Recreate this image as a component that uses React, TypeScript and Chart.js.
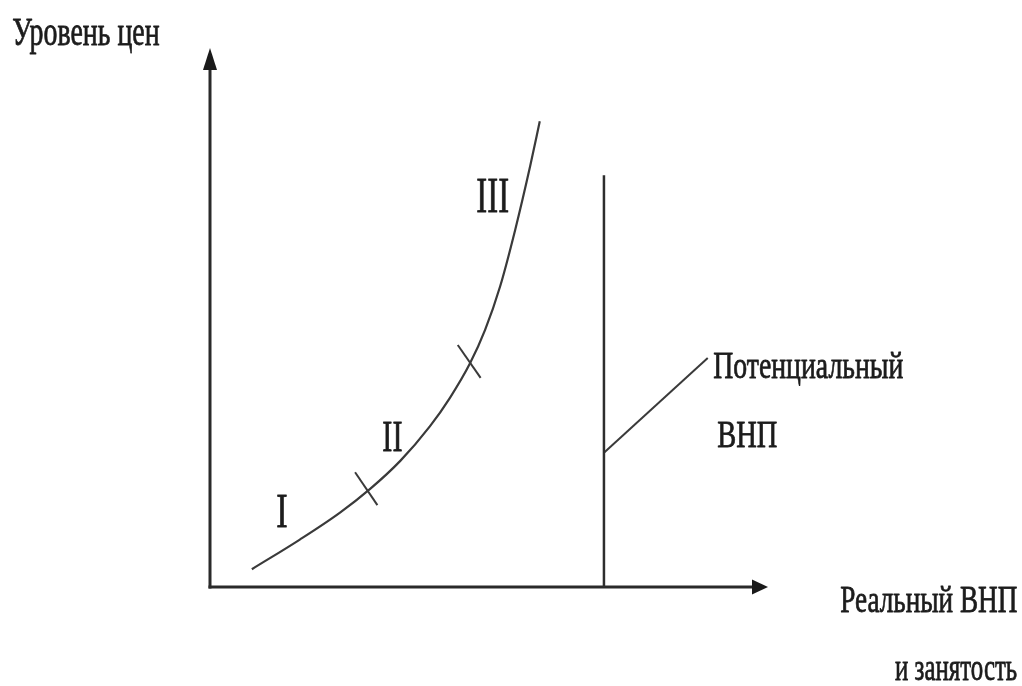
import React, { useEffect, useRef } from "react";
import { Chart, registerables } from "chart.js";

Chart.register(...registerables);

// ---- Data (axis units 0..100 on both axes) ----
const curveX = [7.5, 16.1, 23.3, 28.7, 34.1, 39.4, 43.0, 46.6, 49.3, 52.0, 54.7, 57.4, 59.1];
const curveY = [3.3, 8.8, 13.8, 18.2, 23.4, 29.8, 35.1, 41.5, 47.7, 55.8, 66.3, 78.2, 86.4];
const tickOneX = [26.0, 30.0];
const tickOneY = [21.3, 15.2];
const tickTwoX = [44.4, 48.5];
const tickTwoY = [44.9, 38.8];
const potentialX = [70.6, 70.6];
const potentialY = [0, 76.4];
const leaderX = [70.6, 89.2];
const leaderY = [24.9, 42.5];
const phaseLabels = ["I", "II", "III"];
const yAxisTitle = "Уровень цен";
const xAxisTitle = ["Реальный ВНП", "и занятость"];
const potentialLabel = ["Потенциальный", "ВНП"];

const toPoints = (xs: number[], ys: number[]) => xs.map((x, i) => ({ x, y: ys[i] }));

const FONT = '"Liberation Serif", "DejaVu Serif", "Times New Roman", serif';
const TEXT_COLOR = "#1c1c1c";

function drawText(
  ctx: CanvasRenderingContext2D,
  text: string,
  left: number,
  baseline: number,
  size: number,
  width: number
) {
  ctx.save();
  ctx.font = `${size}px ${FONT}`;
  ctx.textAlign = "left";
  ctx.textBaseline = "alphabetic";
  const m = ctx.measureText(text);
  const ink = m.actualBoundingBoxLeft + m.actualBoundingBoxRight;
  const sx = ink > 0 ? width / ink : 1;
  ctx.translate(left, baseline);
  ctx.scale(sx, 1);
  ctx.fillStyle = TEXT_COLOR;
  ctx.strokeStyle = TEXT_COLOR;
  ctx.lineWidth = 0.8;
  ctx.lineJoin = "round";
  ctx.fillText(text, m.actualBoundingBoxLeft, 0);
  ctx.strokeText(text, m.actualBoundingBoxLeft, 0);
  ctx.restore();
}

const axesPlugin = {
  id: "axesArrows",
  beforeDatasetsDraw(chart: any) {
    const ctx: CanvasRenderingContext2D = chart.ctx;
    const { left, right, top, bottom } = chart.chartArea;
    ctx.save();
    ctx.strokeStyle = "#2a2a2a";
    ctx.fillStyle = "#1a1a1a";
    ctx.lineWidth = 3;
    ctx.beginPath();
    ctx.moveTo(left, bottom + 1.5);
    ctx.lineTo(left, top + 18);
    ctx.stroke();
    ctx.beginPath();
    ctx.moveTo(left - 1.5, bottom);
    ctx.lineTo(right - 12, bottom);
    ctx.stroke();
    // arrow heads
    ctx.beginPath();
    ctx.moveTo(left, top);
    ctx.lineTo(left - 7, top + 22);
    ctx.lineTo(left + 7, top + 22);
    ctx.closePath();
    ctx.fill();
    ctx.beginPath();
    ctx.moveTo(right, bottom);
    ctx.lineTo(right - 16, bottom - 7.5);
    ctx.lineTo(right - 16, bottom + 7.5);
    ctx.closePath();
    ctx.fill();
    ctx.restore();
  },
};

const labelsPlugin = {
  id: "diagramLabels",
  afterDatasetsDraw(chart: any) {
    const ctx: CanvasRenderingContext2D = chart.ctx;
    drawText(ctx, yAxisTitle, 13, 45, 41, 146);
    drawText(ctx, potentialLabel[0], 714, 378, 38, 189);
    drawText(ctx, potentialLabel[1], 718, 447, 38, 59);
    drawText(ctx, xAxisTitle[0], 841, 612, 38, 176);
    drawText(ctx, xAxisTitle[1], 895, 680, 38, 122);
    drawText(ctx, phaseLabels[0], 277, 527, 48, 10);
    drawText(ctx, phaseLabels[1], 383, 451, 44, 19);
    drawText(ctx, phaseLabels[2], 477, 212, 50, 31);
  },
};

export default function App() {
  const ref = useRef<HTMLCanvasElement | null>(null);

  useEffect(() => {
    if (!ref.current) return;
    const lineDs = (data: any[], color: string, width: number, extra: any = {}) => ({
      data,
      showLine: true,
      borderColor: color,
      borderWidth: width,
      pointRadius: 0,
      pointHoverRadius: 0,
      fill: false,
      tension: 0,
      clip: false as any,
      ...extra,
    });
    const chart = new Chart(ref.current, {
      type: "scatter",
      data: {
        datasets: [
          lineDs(toPoints(curveX, curveY), "#3a3a3a", 2.2, { cubicInterpolationMode: "monotone" }),
          lineDs(toPoints(tickOneX, tickOneY), "#3a3a3a", 2),
          lineDs(toPoints(tickTwoX, tickTwoY), "#3a3a3a", 2),
          lineDs(toPoints(potentialX, potentialY), "#2e2e2e", 2.5),
          lineDs(toPoints(leaderX, leaderY), "#3a3a3a", 2),
        ],
      },
      options: {
        animation: false,
        responsive: false,
        devicePixelRatio: 1,
        events: [],
        layout: { padding: { left: 210, right: 254, top: 48, bottom: 99 } },
        scales: {
          x: { type: "linear", display: false, min: 0, max: 100 },
          y: { type: "linear", display: false, min: 0, max: 100 },
        },
        plugins: {
          legend: { display: false },
          tooltip: { enabled: false },
        },
      },
      plugins: [axesPlugin, labelsPlugin],
    } as any);
    return () => chart.destroy();
  }, []);

  return (
    <div
      style={{
        position: "fixed",
        left: 0,
        top: 0,
        width: 1022,
        height: 686,
        background: "#ffffff",
      }}
    >
      <canvas ref={ref} width={1022} height={686} style={{ width: 1022, height: 686, display: "block" }} />
    </div>
  );
}
